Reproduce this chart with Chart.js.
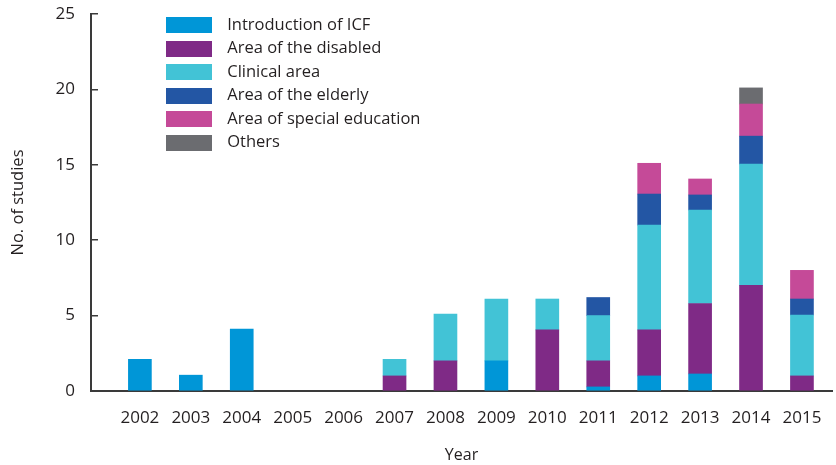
<!DOCTYPE html>
<html>
<head>
<meta charset="utf-8">
<script src="https://cdn.jsdelivr.net/npm/chart.js@4.4.1/dist/chart.umd.min.js"></script>
<style>
html,body{margin:0;padding:0;background:#fff;}
#wrap{position:relative;width:836px;height:465px;}
</style>
</head>
<body>
<div id="wrap"><canvas id="c" width="836" height="465"></canvas></div>
<script>
// ---- data ----
const years = [2002, 2003, 2004, 2005, 2006, 2007, 2008, 2009, 2010, 2011, 2012, 2013, 2014, 2015];
const introductionICF   = [2.1, 1.05, 4.1, null, null, null, null, 2, null, 0.27, 1, 1.13, null, null];
const areaDisabled      = [null, null, null, null, null, 1, 2, null, 4.05, 1.73, 3.05, 4.67, 7, 1];
const clinicalArea      = [null, null, null, null, null, 1.1, 3.1, 4.1, 2.05, 3.0, 6.95, 6.2, 8.05, 4.04];
const areaElderly       = [null, null, null, null, null, null, null, null, null, 1.2, 2.06, 1.0, 1.85, 1.06];
const areaSpecialEdu    = [null, null, null, null, null, null, null, null, null, null, 2.04, 1.06, 2.13, 1.9];
const others            = [null, null, null, null, null, null, null, null, null, null, null, null, 1.07, null];
const seriesNames = ['Introduction of ICF', 'Area of the disabled', 'Clinical area', 'Area of the elderly', 'Area of special education', 'Others'];
const yTicks = [0, 5, 10, 15, 20, 25];

const colors = ['#0096d7', '#7f2a86', '#42c3d6', '#2356a4', '#c54a98', '#6b6c70'];
const seriesData = [introductionICF, areaDisabled, clinicalArea, areaElderly, areaSpecialEdu, others];

const FONT = '"Open Sans", "Noto Sans", sans-serif';
const TEXT = '#231f20';
const AXIS = '#3a3a3a';

// legend swatches (46x16 boxes) used as point styles
const swatches = colors.map(c => {
  const cv = document.createElement('canvas');
  cv.width = 46; cv.height = 16;
  const g = cv.getContext('2d');
  g.fillStyle = c; g.fillRect(0, 0, 46, 16);
  return cv;
});

const legendShift = {
  id: 'legendShift',
  afterLayout(chart) {
    const lg = chart.legend;
    if (!lg) return;
    const dx = 61, dy = 10;
    lg.left += dx; lg.right += dx; lg.top += dy; lg.bottom += dy;
  }
};

new Chart(document.getElementById('c'), {
  type: 'bar',
  data: {
    labels: years,
    datasets: seriesData.map((d, i) => ({
      label: seriesNames[i],
      data: d,
      backgroundColor: colors[i],
      borderWidth: 0,
      barThickness: 23
    }))
  },
  options: {
    responsive: false,
    animation: false,
    devicePixelRatio: 1,
    layout: { padding: { left: 0, right: 4, top: 14, bottom: 0 } },
    plugins: {
      legend: {
        position: 'chartArea',
        align: 'start',
        labels: {
          usePointStyle: true,
          pointStyleWidth: 60,
          boxHeight: 16,
          padding: 7,
          color: TEXT,
          font: { family: FONT, size: 16.5 },
          generateLabels(chart) {
            const items = Chart.defaults.plugins.legend.labels.generateLabels(chart);
            items.forEach((it, i) => { it.pointStyle = swatches[it.datasetIndex]; });
            return items;
          }
        }
      },
      tooltip: { enabled: false }
    },
    scales: {
      x: {
        type: 'linear',
        stacked: true,
        offset: false,
        min: 2001.04,
        max: 2015.59,
        grid: { display: false, drawTicks: false },
        border: { display: true, color: AXIS, width: 2 },
        afterBuildTicks(scale) {
          scale.ticks = years.map(v => ({ value: v }));
        },
        ticks: {
          autoSkip: false,
          maxRotation: 0,
          padding: 17,
          color: TEXT,
          font: { family: FONT, size: 17 },
          callback: (v) => String(v)
        },
        title: {
          display: true,
          text: 'Year',
          color: TEXT,
          font: { family: FONT, size: 16 },
          padding: { top: 10, bottom: 0 }
        },
        afterFit(scale) {
          scale.height = 74;
          scale.paddingLeft = 0; scale.paddingRight = 0;
        }
      },
      y: {
        stacked: true,
        min: 0,
        max: 25,
        afterBuildTicks(scale) {
          scale.ticks = yTicks.map(v => ({ value: v }));
        },
        grid: { display: true, drawOnChartArea: false, drawTicks: true, tickLength: -7, color: AXIS, lineWidth: 1.5 },
        border: { display: true, color: AXIS, width: 2 },
        ticks: {
          padding: 23,
          color: TEXT,
          font: { family: FONT, size: 17 }
        },
        title: {
          display: true,
          text: 'No. of studies',
          color: TEXT,
          font: { family: FONT, size: 16.5 },
          padding: { top: 8, bottom: 0 }
        },
        afterFit(scale) {
          scale.width = 91;
          scale.paddingTop = 0; scale.paddingBottom = 0;
        }
      }
    }
  },
  plugins: [legendShift]
});
</script>
</body>
</html>
